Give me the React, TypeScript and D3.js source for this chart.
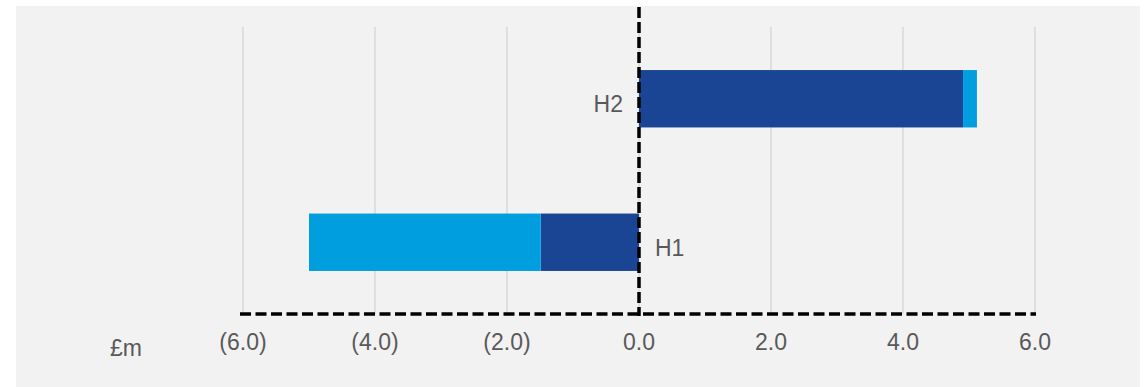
import React from "react";
import * as d3 from "d3";

const categories = ["H2", "H1"];
const seriesNames = ["Dark", "Light"];
const darkValues = [4.91, -1.49];
const lightValues = [0.21, -3.51];
const tickValues = [-6, -4, -2, 0, 2, 4, 6];
const tickLabels = ["(6.0)", "(4.0)", "(2.0)", "0.0", "2.0", "4.0", "6.0"];
const unitLabel = "£m";

const W = 1146;
const H = 387;
const colors = ["#1A4494", "#009DDF"];
const textColor = "#595959";
const font = "Arial, 'Liberation Sans', sans-serif";

export default function App() {
  const x = d3.scaleLinear().domain([-6, 6]).range([243, 1035]);
  const y = d3.scaleBand<string>().domain(categories).range([27, 314]).paddingInner(0.6).paddingOuter(0.3);
  const series = [darkValues, lightValues];

  const rows = categories.map((c, i) => {
    let acc = 0;
    return series.map((vals, s) => {
      const v = vals[i];
      const x0 = acc;
      const x1 = acc + v;
      acc = x1;
      return { c, s, x0, x1 };
    });
  });

  return (
    <svg width={W} height={H} style={{ position: "absolute", left: 0, top: 0 }} fontFamily={font}>
      <rect x={16} y={6} width={1124} height={381} fill="#F2F2F2" />
      {tickValues.map((t) => (
        <line key={"g" + t} x1={x(t)} x2={x(t)} y1={27} y2={314} stroke="#D9D9D9" strokeWidth={1.5} />
      ))}
      {rows.flat().map((r) => (
        <rect
          key={r.c + r.s}
          x={x(Math.min(r.x0, r.x1))}
          width={Math.abs(x(r.x1) - x(r.x0))}
          y={y(r.c)!}
          height={y.bandwidth()}
          fill={colors[r.s]}
        />
      ))}
      <line x1={240} x2={1036} y1={314} y2={314} stroke="#000" strokeWidth={3.5} strokeDasharray="11,4.5" />
      <line x1={x(0)} x2={x(0)} y1={7} y2={316} stroke="#000" strokeWidth={3.5} strokeDasharray="11,4" />
      {categories.map((c, i) => {
        const total = darkValues[i] + lightValues[i];
        const cy = y(c)! + y.bandwidth() / 2;
        const pos = total >= 0;
        return (
          <text
            key={"l" + c}
            x={pos ? x(0) - 16 : x(0) + 16}
            y={cy + 13.5}
            textAnchor={pos ? "end" : "start"}
            fontSize={23}
            fill={textColor}
          >
            {c}
          </text>
        );
      })}
      {tickValues.map((t, i) => (
        <text key={"t" + t} x={x(t)} y={350} textAnchor="middle" fontSize={23} fill={textColor}>
          {tickLabels[i]}
        </text>
      ))}
      <text x={110} y={356} fontSize={23} fill={textColor}>
        {unitLabel}
      </text>
    </svg>
  );
}
